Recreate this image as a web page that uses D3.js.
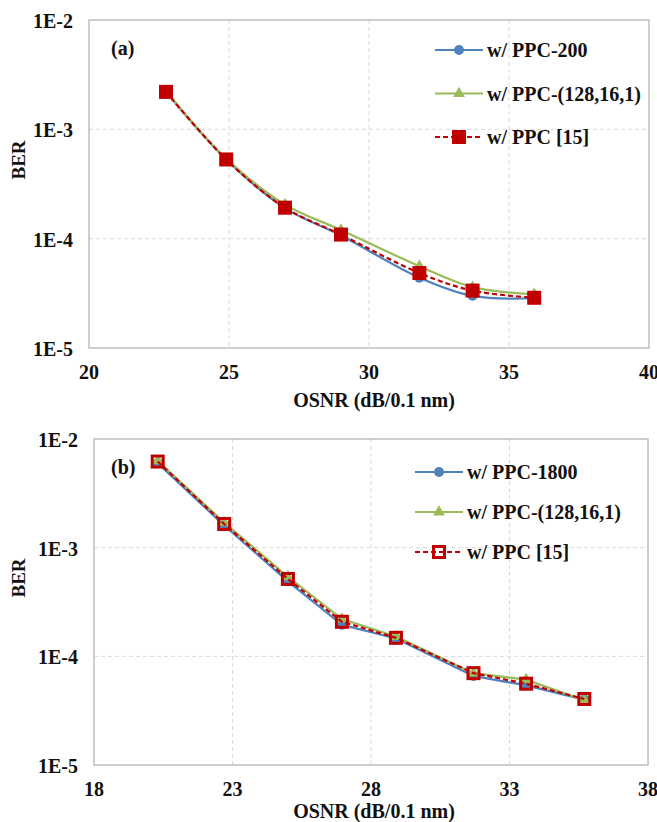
<!DOCTYPE html>
<html>
<head>
<meta charset="utf-8">
<script src="https://cdn.jsdelivr.net/npm/d3@7"></script>
<style>
  body { margin: 0; background: #fff; }
  svg text { font-family: "Liberation Serif", "DejaVu Serif", serif; font-weight: bold; fill: #111; }
</style>
</head>
<body>
<div id="chart"></div>
<script>
// panel (a)
var osnrA = [22.75, 24.9, 27.0, 29.0, 31.8, 33.7, 35.9];
var berA_ppc200 = [2.2e-3, 5.3e-4, 1.9e-4, 1.07e-4, 4.4e-5, 3.0e-5, 2.85e-5];
var berA_ppc128 = [2.25e-3, 5.4e-4, 2.05e-4, 1.2e-4, 5.6e-5, 3.6e-5, 3.1e-5];
var berA_ppc15 = [2.2e-3, 5.3e-4, 1.92e-4, 1.09e-4, 4.85e-5, 3.35e-5, 2.88e-5];
var xTicksA = [20, 25, 30, 35, 40];

// panel (b)
var osnrB = [20.3, 22.7, 25.0, 26.95, 28.9, 31.7, 33.6, 35.7];
var berB_ppc1800 = [6.0e-3, 1.6e-3, 4.9e-4, 1.95e-4, 1.46e-4, 6.6e-5, 5.4e-5, 4.0e-5];
var berB_ppc128 = [6.3e-3, 1.7e-3, 5.4e-4, 2.2e-4, 1.52e-4, 7.0e-5, 6.1e-5, 3.95e-5];
var berB_ppc15 = [6.2e-3, 1.65e-3, 5.15e-4, 2.08e-4, 1.48e-4, 7.0e-5, 5.6e-5, 4.05e-5];
var xTicksB = [18, 23, 28, 33, 38];

var yTicks = [1e-5, 1e-4, 1e-3, 1e-2];
var yTickLabels = ["1E-5", "1E-4", "1E-3", "1E-2"];

var blue = "#4F81BD", green = "#9BBB59", red = "#C00000";

var svg = d3.select("#chart").append("svg")
    .attr("width", 657)
    .attr("height", 822);

function drawPanel(opt) {
    var x = d3.scaleLinear().domain(opt.xDomain).range([opt.left, opt.right]);
    var y = d3.scaleLog().domain([1e-5, 1e-2]).range([opt.bottom, opt.top]);
    var g = svg.append("g");

    // grid
    g.selectAll(".vgrid").data(opt.xTicks.slice(1, -1)).enter().append("line")
        .attr("x1", function (d) { return x(d); }).attr("x2", function (d) { return x(d); })
        .attr("y1", opt.top).attr("y2", opt.bottom)
        .attr("stroke", "#d9d9d9").attr("stroke-dasharray", "4,3");
    g.selectAll(".hgrid").data(yTicks.slice(1, -1)).enter().append("line")
        .attr("x1", opt.left).attr("x2", opt.right)
        .attr("y1", function (d) { return y(d); }).attr("y2", function (d) { return y(d); })
        .attr("stroke", "#d9d9d9").attr("stroke-dasharray", "4,3");

    // frame
    g.append("rect")
        .attr("x", opt.left).attr("y", opt.top)
        .attr("width", opt.right - opt.left).attr("height", opt.bottom - opt.top)
        .attr("fill", "none").attr("stroke", "#bfbfbf").attr("stroke-width", 1.5);

    // tick labels
    g.selectAll(".xt").data(opt.xTicks).enter().append("text")
        .attr("x", function (d) { return x(d); })
        .attr("y", opt.bottom + 31)
        .attr("text-anchor", "middle")
        .style("font-size", "20px")
        .text(function (d) { return d; });
    g.selectAll(".yt").data(yTicks).enter().append("text")
        .attr("x", opt.left - 16)
        .attr("y", function (d) { return y(d) + 8; })
        .attr("text-anchor", "end")
        .style("font-size", "20px")
        .text(function (d, i) { return yTickLabels[i]; });

    // axis titles
    g.append("text")
        .attr("x", 374).attr("y", opt.bottom + opt.xTitleDy)
        .attr("text-anchor", "middle")
        .style("font-size", "20px")
        .text("OSNR (dB/0.1 nm)");
    g.append("text")
        .attr("transform", "translate(25," + (opt.top + (opt.bottom - opt.top) / 2 - 24) + ") rotate(-90)")
        .attr("text-anchor", "middle")
        .style("font-size", "19px")
        .text("BER");

    g.append("text")
        .attr("x", 111).attr("y", opt.labelY)
        .style("font-size", "20px")
        .text(opt.label);

    var line = d3.line()
        .x(function (d) { return x(d[0]); })
        .y(function (d) { return y(d[1]); })
        .curve(opt.curve);

    opt.series.forEach(function (s) {
        var pts = opt.osnr.map(function (v, i) { return [v, s.values[i]]; });
        g.append("path")
            .datum(pts)
            .attr("d", line)
            .attr("fill", "none")
            .attr("stroke", s.color)
            .attr("stroke-width", 2.2)
            .attr("stroke-dasharray", s.dash || null);
        pts.forEach(function (p) {
            drawMarker(g, s, x(p[0]), y(p[1]));
        });
    });

    // legend
    opt.series.forEach(function (s, i) {
        var ly = opt.legendY + i * opt.legendGap;
        g.append("line")
            .attr("x1", opt.legendX).attr("x2", opt.legendX + 48)
            .attr("y1", ly).attr("y2", ly)
            .attr("stroke", s.color).attr("stroke-width", 2.2)
            .attr("stroke-dasharray", s.dash || null);
        drawMarker(g, s, opt.legendX + 24, ly);
        g.append("text")
            .attr("x", opt.legendX + 52).attr("y", ly + 7)
            .style("font-size", "20px")
            .text(s.name);
    });
}

function drawMarker(g, s, cx, cy) {
    if (s.marker === "circle") {
        g.append("circle").attr("cx", cx).attr("cy", cy).attr("r", 5).attr("fill", s.color);
    } else if (s.marker === "triangle") {
        g.append("path")
            .attr("transform", "translate(" + cx + "," + cy + ")")
            .attr("d", d3.symbol().type(d3.symbolTriangle).size(60)())
            .attr("fill", s.color);
    } else if (s.marker === "square") {
        g.append("rect").attr("x", cx - 7).attr("y", cy - 7)
            .attr("width", 14).attr("height", 14).attr("fill", s.color);
    } else if (s.marker === "hollow") {
        g.append("rect").attr("x", cx - 5.5).attr("y", cy - 5.5)
            .attr("width", 11).attr("height", 11)
            .attr("fill", "none").attr("stroke", s.color).attr("stroke-width", 3);
    }
}

drawPanel({
    left: 89, right: 649, top: 20, bottom: 348,
    xDomain: [20, 40], xTicks: xTicksA, osnr: osnrA,
    label: "(a)", labelY: 55, xTitleDy: 59,
    curve: d3.curveCatmullRom,
    legendX: 435, legendY: 50, legendGap: 43.5,
    series: [
        { name: "w/ PPC-200", values: berA_ppc200, color: blue, marker: "circle" },
        { name: "w/ PPC-(128,16,1)", values: berA_ppc128, color: green, marker: "triangle" },
        { name: "w/ PPC [15]", values: berA_ppc15, color: red, marker: "square", dash: "5,3" }
    ]
});

drawPanel({
    left: 94, right: 648, top: 439, bottom: 765,
    xDomain: [18, 38], xTicks: xTicksB, osnr: osnrB,
    label: "(b)", labelY: 474, xTitleDy: 53,
    curve: d3.curveLinear,
    legendX: 415, legendY: 472, legendGap: 40,
    series: [
        { name: "w/ PPC-1800", values: berB_ppc1800, color: blue, marker: "circle" },
        { name: "w/ PPC-(128,16,1)", values: berB_ppc128, color: green, marker: "triangle" },
        { name: "w/ PPC [15]", values: berB_ppc15, color: red, marker: "hollow", dash: "5,3" }
    ]
});
</script>
</body>
</html>
